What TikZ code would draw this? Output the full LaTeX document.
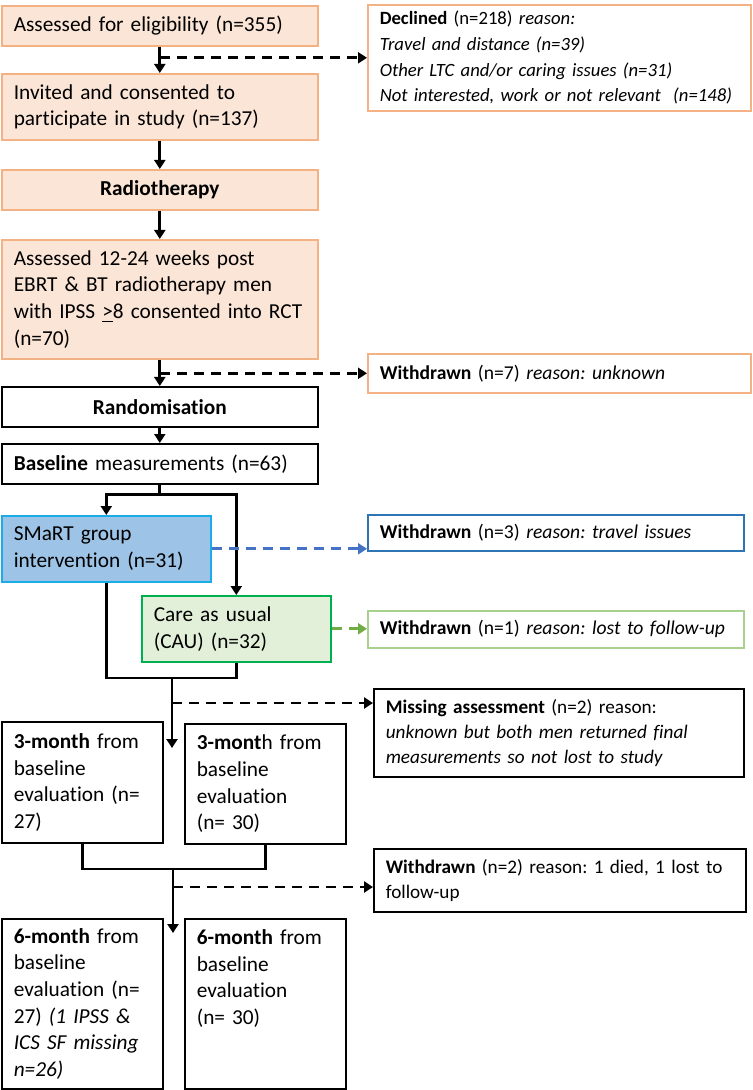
\documentclass[tikz,border=0pt]{standalone}
\usepackage{fontspec}
\setmainfont{Carlito}[Ligatures=NoCommon]
\usetikzlibrary{arrows.meta,calc}
\definecolor{orfill}{HTML}{FBE5D6}
\definecolor{ordraw}{HTML}{F4B183}
\definecolor{blfill}{HTML}{9DC3E6}
\definecolor{bldraw}{HTML}{1AACE8}
\definecolor{bldark}{HTML}{2E75B6}
\definecolor{blarr}{HTML}{4472C4}
\definecolor{grfill}{HTML}{E2F0D9}
\definecolor{grdraw}{HTML}{00B050}
\definecolor{grlight}{HTML}{A9D18E}
\definecolor{grarr}{HTML}{70AD47}
\frenchspacing
\begin{document}
\begin{tikzpicture}[x=0.5pt,y=-0.5pt,
 box/.style={draw, rectangle, anchor=north west, inner sep=0pt, align=left,
   line width=0.8pt, font=\fontsize{10.65pt}{13.3pt}\selectfont\frenchspacing,
   execute at begin node={\leftskip=6pt\relax}},
 cbox/.style={draw, rectangle, anchor=north west, inner sep=0pt, align=center,
   line width=0.8pt, font=\fontsize{10.65pt}{13.3pt}\selectfont},
 rbox/.style={box, font=\fontsize{9.6pt}{12.6pt}\selectfont\frenchspacing},
 decfont/.style={font=\fontsize{9.35pt}{12.8pt}\selectfont\frenchspacing},
 wfont/.style={font=\fontsize{9.8pt}{12.6pt}\selectfont\frenchspacing},
 arr/.style={line width=1.4pt, -{Triangle[length=4.5pt,width=5.5pt]}},
 link/.style={line width=1.4pt},
 darr/.style={arr, dash pattern=on 5pt off 3.5pt},
]
\useasboundingbox (0,0) rectangle (752,1090);
\fill[white] (0,0) rectangle (752,1090);

% left column
\node[box, draw=ordraw, fill=orfill, text width=158pt, minimum height=20pt] (b1) at (1,5)
  {Assessed for eligibility (n=355)};
\node[box, draw=ordraw, fill=orfill, text width=158pt, minimum height=33pt] (b2) at (1,73)
  {Invited and consented to\\participate in study (n=137)};
\node[cbox, draw=ordraw, fill=orfill, text width=158pt, minimum height=20pt] (b3) at (1,169)
  {\textbf{Radiotherapy}};
\node[box, draw=ordraw, fill=orfill, text width=158pt, minimum height=59.5pt] (b4) at (1,239)
  {Assessed 12-24 weeks post\\EBRT \& BT radiotherapy men\\with IPSS \underline{>}8 consented into RCT\\(n=70)};
\node[cbox, text width=158pt, minimum height=20pt] (rand) at (1,386)
  {\textbf{Randomisation}};
\node[box, text width=158pt, minimum height=20pt] (base) at (1,443)
  {\textbf{Baseline} measurements (n=63)};
\node[box, draw=bldraw, fill=blfill, text width=104.5pt, minimum height=33pt] (smart) at (1,515)
  {SMaRT group\\intervention (n=31)};
\node[box, draw=grdraw, fill=grfill, text width=94.5pt, minimum height=33pt] (cau) at (141,595)
  {Care as usual\\(CAU) (n=32)};
\node[box, text width=80.5pt, minimum height=60.5pt] (m3L) at (1,721)
  {\textbf{3-month} from\\baseline\\evaluation (n=\\27)};
\node[box, text width=80.5pt, minimum height=60pt] (m3R) at (184,723)
  {\textbf{3-mont}h from\\baseline\\evaluation\\(n= 30)};
\node[box, text width=80.5pt, minimum height=85pt] (m6L) at (1,918)
  {\textbf{6-month} from\\baseline\\evaluation (n=\\27) \textit{(1 IPSS \&}\\\textit{ICS SF missing}\\\textit{n=26)}};
\node[box, text width=80.5pt, minimum height=85pt] (m6R) at (184,918)
  {\textbf{6-month} from\\baseline\\evaluation\\(n= 30)\\\mbox{}\\\mbox{}};

% right column
\node[rbox, decfont, draw=ordraw, text width=191.5pt, minimum height=53pt] (dec) at (367,4)
  {\textbf{Declined} (n=218) \textit{reason:}\\\textit{Travel and distance (n=39)}\\\textit{Other LTC and/or caring issues (n=31)}\\\textit{Not interested, work or not relevant\ \ (n=148)}};
\node[rbox, wfont, draw=ordraw, text width=191.5pt, minimum height=19.5pt] (w7) at (367,353)
  {\textbf{Withdrawn} (n=7) \textit{reason: unknown}};
\node[rbox, wfont, draw=bldark, text width=188pt, minimum height=18pt] (w3) at (367,514)
  {\textbf{Withdrawn} (n=3) \textit{reason: travel issues}};
\node[rbox, wfont, draw=grlight, text width=188pt, minimum height=18.5pt] (w1) at (367,610)
  {\textbf{Withdrawn} (n=1) \textit{reason: lost to follow-up}};
\node[rbox, text width=185pt, minimum height=44pt] (miss) at (373,688)
  {\textbf{Missing assessment} (n=2) reason:\\\textit{unknown but both men returned final}\\\textit{measurements so not lost to study}};
\node[rbox, text width=186pt, minimum height=31.5pt] (w2) at (373,848)
  {\textbf{Withdrawn} (n=2) reason: 1 died, 1 lost to\\follow-up};

% connectors
\draw[arr] (b1.south) -- (b2.north);
\draw[darr] (dec.west -| b1.south) -- (dec.west);
\draw[arr] (b2.south) -- (b3.north);
\draw[arr] (b3.south) -- (b4.north);
\draw[arr] (b4.south) -- (rand.north);
\draw[darr] (w7.west -| b4.south) -- (w7.west);
\draw[arr] (rand.south) -- (base.north);
\coordinate (s1) at ($(base.south)+(0,10)$);
\draw[link] (base.south) -- (s1);
\draw[arr] (s1) -| (smart.north);
\draw[arr] (s1) -| (cau.north);
\draw[darr, blarr] (smart.east) -- (smart.east -| w3.west);
\draw[darr, grarr] (cau.east) -- (cau.east -| w1.west);

\coordinate (j1) at (172,678);
\coordinate (t1) at (172,748);
\coordinate (d1) at (172,703);
\draw[link] (smart.south) |- (cau.south |- j1) -- (cau.south);
\draw[arr] (j1) -- (t1);
\draw[darr] (d1) -- (d1 -| miss.west);

\coordinate (j2) at (173,869);
\coordinate (t2) at (173,933);
\coordinate (d2) at (173,887);
\draw[link] (m3L.south) |- (m3R.south |- j2) -- (m3R.south);
\draw[arr] (j2) -- (t2);
\draw[darr] (d2) -- (d2 -| w2.west);
\end{tikzpicture}
\end{document}
